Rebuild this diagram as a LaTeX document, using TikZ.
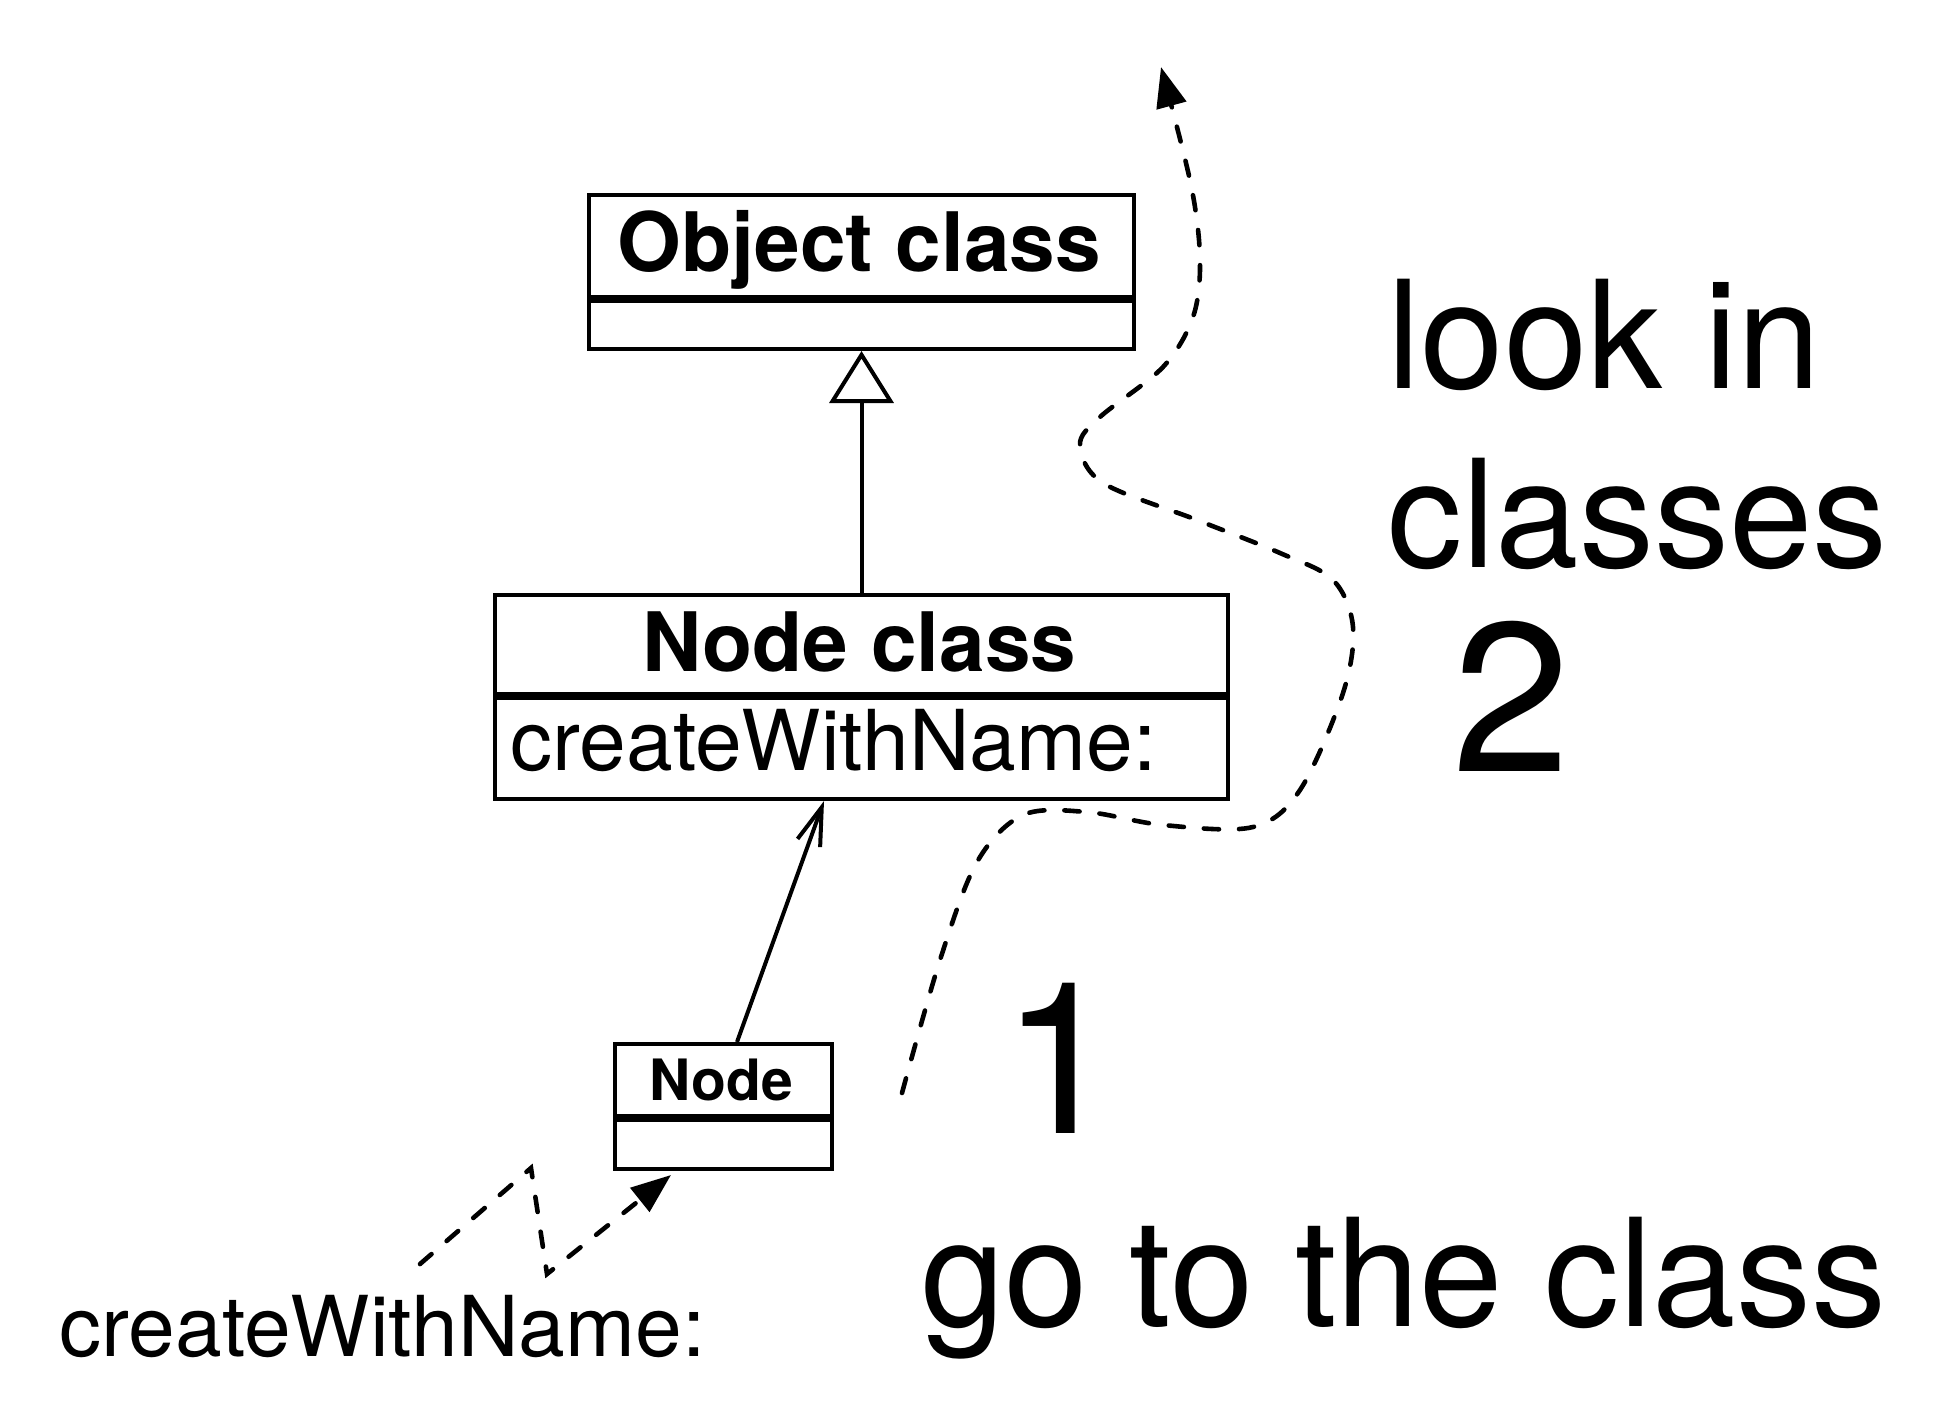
\documentclass[tikz,border=0pt]{standalone}
\usepackage{fontspec}
\setmainfont{TeX Gyre Heros}
\usetikzlibrary{arrows.meta}
\begin{document}
\begin{tikzpicture}[x=0.5pt,y=-0.5pt,
  box/.style={draw, line width=2pt, rectangle, inner sep=0pt, anchor=north west},
  lbl/.style={inner sep=0pt, anchor=base},
  lblw/.style={inner sep=0pt, anchor=base west},
  conn/.style={line width=2pt},
  dconn/.style={line width=2.3pt, line cap=round, dash pattern=on 7.6pt off 10pt},
  headfont/.style={font=\fontsize{41}{49}\selectfont\bfseries},
  methfont/.style={font=\fontsize{42}{50}\selectfont},
  smallhead/.style={font=\fontsize{28.5}{34}\selectfont\bfseries},
  bigtext/.style={font=\fontsize{75}{90}\selectfont},
  digit/.style={font=\fontsize{106}{127}\selectfont},
  filled/.style={-{Triangle[length=20pt,width=15pt]}}
]
\useasboundingbox (0,0) rectangle (1949,1420);

% Object class
\node[box, minimum width=272.5pt, minimum height=51pt] (ochead) at (587,193) {};
\node[box, minimum width=272.5pt, minimum height=24pt] (ocbody) at (ochead.south west) {};
\node[lbl, headfont] (oclabel) at (859.5,271) {Object class};

% Node class
\node[box, minimum width=366.5pt, minimum height=49.5pt] (nchead) at (493,593) {};
\node[box, minimum width=366.5pt, minimum height=50.5pt] (ncbody) at (nchead.south west) {};
\node[lbl, headfont] (nclabel) at (859.5,671) {Node class};
\node[lblw, methfont] (ncmeth) at (510,770) {createWithName:};

% Node
\node[box, minimum width=108.5pt, minimum height=36pt] (nhead) at (613,1042) {};
\node[box, minimum width=108.5pt, minimum height=24.5pt] (nbody) at (nhead.south west) {};
\node[lbl, smallhead] (nlabel) at (721.5,1100) {Node};

% connectors
\draw[conn, -{Triangle[open, length=26pt, width=32pt]}] (nchead.north) -- (ocbody.south);
\draw[conn, -{Straight Barb[length=19pt, width=12pt]}] ([xshift=6.75pt]nhead.north) -- ([xshift=-18.75pt]ncbody.south);

% message dashed arrow
\coordinate (m0) at (420,1264);
\coordinate (m1) at (531,1168);
\coordinate (m2) at (547,1274);
\coordinate (m3) at (671,1175);
\draw[dconn, filled] (m0) -- (m1) -- (m2) -- (m3);

% lookup dashed curve
\draw[dconn, filled] plot[smooth, tension=0.55] coordinates {
  (902,1093) (940,960) (977,862) (1023,815) (1087,812) (1163,825) (1253,827)
  (1300,790) (1343,693) (1353,627) (1333,580) (1280,553) (1197,520) (1103,483)
  (1080,445) (1100,417) (1163,367) (1193,317) (1200,260) (1191,185) (1161,67)};

% texts
\node[lblw, bigtext] (t1) at (1387,388) {look in};
\node[lblw, bigtext] (t2) at (1387,567) {classes};
\node[lblw, digit] (d2) at (1452,771) {2};
\node[lblw, digit] (d1) at (1001,1133) {1};
\node[lblw, bigtext] (t3) at (921,1326) {go to the class};
\node[lblw, methfont] (msg) at (59,1356) {createWithName:};
\end{tikzpicture}
\end{document}
